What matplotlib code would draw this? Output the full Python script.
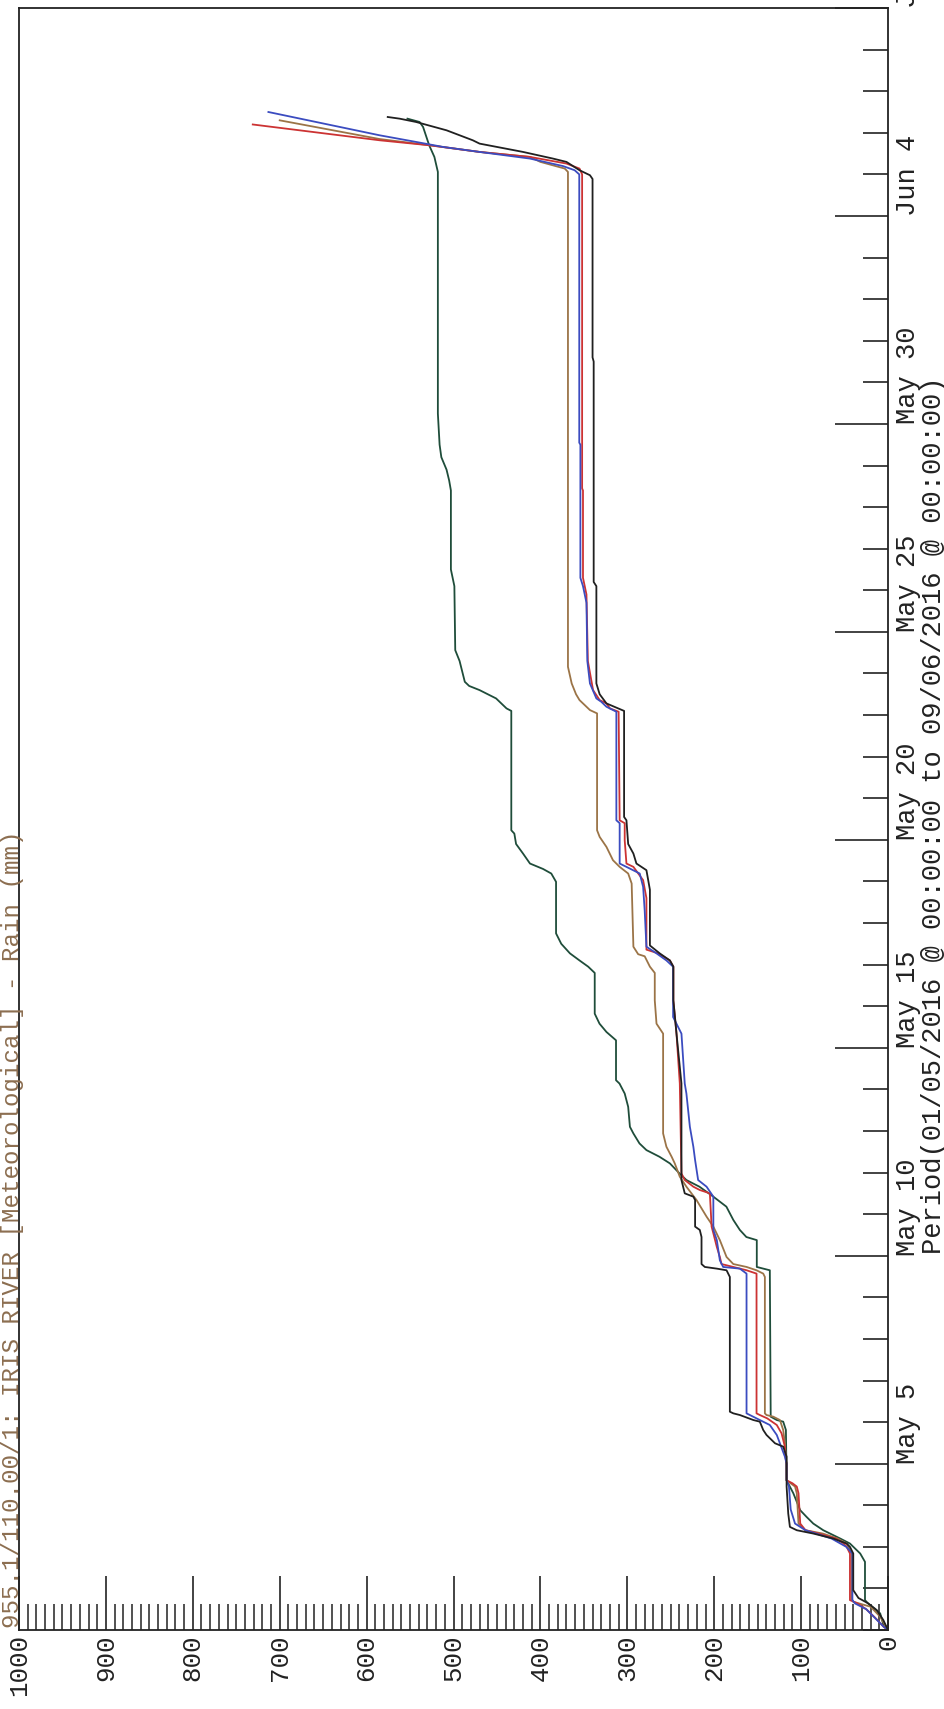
import matplotlib
matplotlib.use("Agg")
import matplotlib.pyplot as plt
from matplotlib.ticker import MultipleLocator

# cumulative rain (mm) against days since 01/05/2016 00:00
green = [(0, 0), (0.1, 5), (0.4, 9), (0.64, 23), (0.72, 26.5), (1.64, 26.5), (1.84, 32),
         (2.08, 43.8), (2.2, 55), (2.4, 74.5), (2.56, 86), (2.72, 93.7), (2.88, 101),
         (3.29, 109), (3.6, 116.7), (4.81, 117.5), (5.01, 120.6), (5.05, 128), (5.13, 135),
         (8.65, 136), (8.73, 151), (9.375, 151), (9.45, 163), (9.62, 170.5), (9.86, 178),
         (10.18, 186), (10.42, 201), (10.66, 217), (10.82, 232), (10.98, 240), (11.22, 251),
         (11.38, 263), (11.54, 278), (11.7, 286), (11.94, 293), (12.1, 297), (12.58, 299),
         (12.9, 303), (13.14, 309), (13.22, 313), (14.18, 313), (14.38, 324), (14.58, 332),
         (14.82, 337.5), (15.8, 337.5), (15.95, 345), (16.1, 355), (16.27, 366), (16.5, 376),
         (16.75, 382), (17.99, 382), (18.19, 387.5), (18.3, 397), (18.43, 412), (18.67, 420),
         (18.9, 428), (19.15, 430), (19.23, 433.5), (22.1, 433.5), (22.16, 439), (22.4, 451),
         (22.6, 470), (22.7, 482), (22.8, 487), (23.3, 493), (23.56, 498), (25.1, 499),
         (25.5, 503), (27.4, 503), (27.64, 505), (27.9, 508), (28.2, 514), (28.5, 516),
         (29.25, 518), (35.06, 518), (35.42, 522), (35.7, 528), (36.14, 535), (36.26, 539),
         (36.34, 553)]

black = [(0, 0), (0.24, 5.4), (0.48, 13), (0.64, 22.7), (0.77, 34), (0.96, 40), (1.84, 40),
         (2.0, 43.8), (2.08, 47.6), (2.2, 63), (2.32, 86), (2.4, 105), (2.48, 112.9),
         (2.8, 114.8), (3.45, 116.7), (4.17, 116.7), (4.41, 120.6), (4.49, 130), (4.69, 139.8),
         (4.81, 143.6), (5.01, 147.5), (5.05, 155), (5.17, 170.5), (5.21, 178), (5.25, 182),
         (8.49, 182), (8.65, 185.8), (8.69, 197), (8.73, 210.8), (8.8, 214.6), (9.45, 214.6),
         (9.62, 216.6), (9.7, 222), (10.34, 222), (10.42, 224), (10.5, 233.9), (10.66, 235.8),
         (10.82, 237.7), (13.14, 237.7), (14.34, 243.4), (15.14, 247), (15.95, 247),
         (16.1, 251), (16.27, 262.7), (16.46, 274), (17.8, 274), (18.27, 278), (18.43, 289.5),
         (18.67, 293), (18.9, 299), (19.47, 301), (19.55, 303.7), (22.1, 303.7), (22.2, 315),
         (22.28, 324), (22.5, 331.8), (22.76, 335.6), (25.1, 335.6), (25.2, 338.7),
         (30.5, 338.7), (30.6, 340), (34.89, 340), (34.98, 343), (35.1, 355), (35.3, 370),
         (35.38, 385.5), (35.54, 420), (35.74, 470), (35.82, 477.8), (36.06, 508),
         (36.26, 543), (36.34, 562), (36.38, 575.7)]

blue = [(0, 0), (0.08, 5), (0.5, 25), (0.64, 38), (0.72, 41), (1.84, 41), (2.0, 48),
        (2.2, 65), (2.4, 95), (2.56, 107), (2.9, 112), (3.45, 114), (3.6, 116.7), (4.0, 116.7),
        (4.17, 118.7), (4.49, 124.4), (4.69, 128), (4.93, 136), (5.05, 147.5), (5.17, 159),
        (5.21, 162.8), (8.57, 162.8), (8.69, 170.5), (8.73, 189.7), (8.89, 193.5),
        (9.375, 197), (9.62, 201), (10.42, 201), (10.66, 208.8), (10.82, 218.5), (11.3, 222),
        (11.62, 224), (12.1, 228), (12.9, 232), (13.14, 233.9), (14.34, 237.7), (14.74, 247.3),
        (15.95, 247.3), (16.1, 255), (16.27, 266.4), (16.43, 278), (17.3, 280), (17.87, 281.8),
        (18.19, 285.7), (18.35, 301), (18.43, 308.8), (19.4, 308.8), (19.47, 312.6),
        (22.08, 312.6), (22.2, 324), (22.32, 330), (22.4, 335.6), (22.76, 343), (23.3, 346),
        (24.7, 347), (25.1, 351), (25.3, 354), (28.5, 354), (28.55, 355.3), (35.0, 355.3),
        (35.1, 360.6), (35.2, 374), (35.38, 412), (35.54, 470), (35.66, 512), (35.78, 543),
        (35.94, 585), (36.5, 713)]

red = [(0, 0), (0.08, 5), (0.3, 15), (0.5, 25), (0.64, 35), (0.72, 43.8), (1.84, 43.8),
       (2.0, 47.6), (2.08, 51), (2.2, 60), (2.32, 80), (2.4, 95), (2.56, 101), (3.29, 103),
       (3.45, 105), (3.53, 110), (3.6, 116.7), (4.0, 116.7), (4.09, 117.5), (4.41, 118.7),
       (4.73, 122.5), (4.93, 128), (5.09, 139), (5.17, 147.5), (5.21, 151.3), (8.57, 151.3),
       (8.65, 162.7), (8.73, 178), (8.8, 191.6), (8.97, 193.5), (9.21, 197), (9.54, 201),
       (9.7, 203), (10.5, 205), (10.58, 216.6), (10.66, 224), (10.82, 233.9), (10.98, 237.7),
       (13.14, 239.6), (14.34, 243.4), (15.14, 247), (15.95, 247), (16.1, 251),
       (16.27, 264.5), (16.36, 278), (17.6, 278), (18.03, 281.8), (18.35, 293), (18.43, 301),
       (18.99, 303), (19.4, 303), (19.47, 308.8), (22.08, 310), (22.16, 320), (22.28, 324),
       (22.36, 331.8), (22.6, 339.4), (23.3, 345.4), (24.9, 347), (25.1, 349), (25.3, 351),
       (27.4, 351), (27.45, 352), (35.0, 352), (35.14, 355), (35.26, 370), (35.42, 412),
       (35.54, 470), (35.7, 527.6), (35.82, 585), (36.2, 731)]

brown = [(0, 0), (0.32, 9), (0.56, 20), (0.68, 40), (0.75, 41.8), (1.84, 41.8), (2.08, 47.6),
         (2.2, 58), (2.32, 75), (2.4, 95), (2.56, 103), (3.29, 105), (3.45, 107), (3.6, 116.7),
         (4.0, 116.7), (4.09, 117.5), (4.49, 118.7), (4.81, 120.6), (5.05, 124.4), (5.13, 132),
         (5.17, 139.8), (5.21, 141.7), (8.49, 141.7), (8.57, 143.6), (8.65, 151.3),
         (8.73, 162.7), (8.8, 178), (8.97, 185.8), (9.375, 193.5), (9.7, 201), (9.94, 208.8),
         (10.34, 220.4), (10.66, 232), (10.9, 239.6), (11.22, 245.4), (11.38, 249),
         (11.62, 255), (11.94, 258.8), (14.34, 258.8), (14.58, 266.4), (15.14, 268.4),
         (15.8, 268.4), (15.95, 274), (16.2, 280), (16.25, 287.5), (16.43, 293), (17.95, 295),
         (18.19, 299), (18.35, 308.8), (18.51, 316.5), (18.83, 324), (19.07, 331.8),
         (19.23, 334.8), (22.04, 334.8), (22.12, 343), (22.36, 355), (22.5, 359), (22.76, 364),
         (23.16, 368.3), (35.06, 368.3), (35.14, 372), (35.3, 400), (35.42, 412),
         (35.54, 470), (35.7, 527), (35.85, 585), (36.3, 700)]

series = [(green, "#1f4d3a"), (brown, "#9b7447"), (red, "#cc3333"),
          (blue, "#3b4cc0"), (black, "#202020")]

day_ticks = [4, 9, 14, 19, 24, 29, 34, 39]
day_labels = ["May 5", "May 10", "May 15", "May 20", "May 25", "May 30", "Jun 4", "Jun 9"]
rain_ticks = list(range(0, 1001, 100))
rain_labels = [str(v) for v in rain_ticks]

title = "955.1/110.00/1: IRIS RIVER [Meteorological] - Rain (mm)"
period = "Period(01/05/2016 @ 00:00:00 to 09/06/2016 @ 00:00:00)"

plt.rcParams["font.family"] = ["Liberation Mono", "DejaVu Sans Mono"]

fig = plt.figure(figsize=(9.45, 17.09), dpi=100)
# the chart is printed sideways: rain runs right-to-left, time runs upward
ax = fig.add_axes([0.0201, 0.0462, 0.9196, 0.9491])

for pts, color in series:
    days = [p[0] for p in pts]
    rain = [p[1] for p in pts]
    ax.plot(rain, days, color=color, lw=1.3)

ax.set_xlim(1000, 0)
ax.set_ylim(0, 39)

for sp in ax.spines.values():
    sp.set_linewidth(1.3)
    sp.set_color("#222222")

# rain axis (bottom)
ax.set_xticks(rain_ticks)
ax.set_xticklabels(rain_labels)
ax.xaxis.set_minor_locator(MultipleLocator(10))
ax.tick_params(axis="x", which="major", direction="in", length=39, width=1.2,
               labelsize=18.6, labelrotation=90, pad=3, colors="#222222")
ax.tick_params(axis="x", which="minor", direction="in", length=19, width=1.1,
               colors="#222222")

# time axis (right)
ax.yaxis.tick_right()
ax.set_yticks(day_ticks)
ax.set_yticklabels(day_labels)
ax.yaxis.set_minor_locator(MultipleLocator(1))
ax.tick_params(axis="y", which="major", direction="in", length=38, width=1.2,
               labelsize=19.5, labelrotation=90, pad=5, colors="#222222")
ax.tick_params(axis="y", which="minor", direction="in", length=18, width=1.2,
               colors="#222222")
for lab in ax.get_yticklabels():
    lab.set_va("bottom")
    lab.set_ha("left")

fig.text(0.001, 0.0474, title, rotation=90, ha="left", va="bottom",
         color="#8c6e50", fontsize=17.4)
fig.text(0.9745, 0.2662, period, rotation=90, ha="left", va="bottom",
         color="#222222", fontsize=19.5)

fig.savefig("out.png", dpi=100)
